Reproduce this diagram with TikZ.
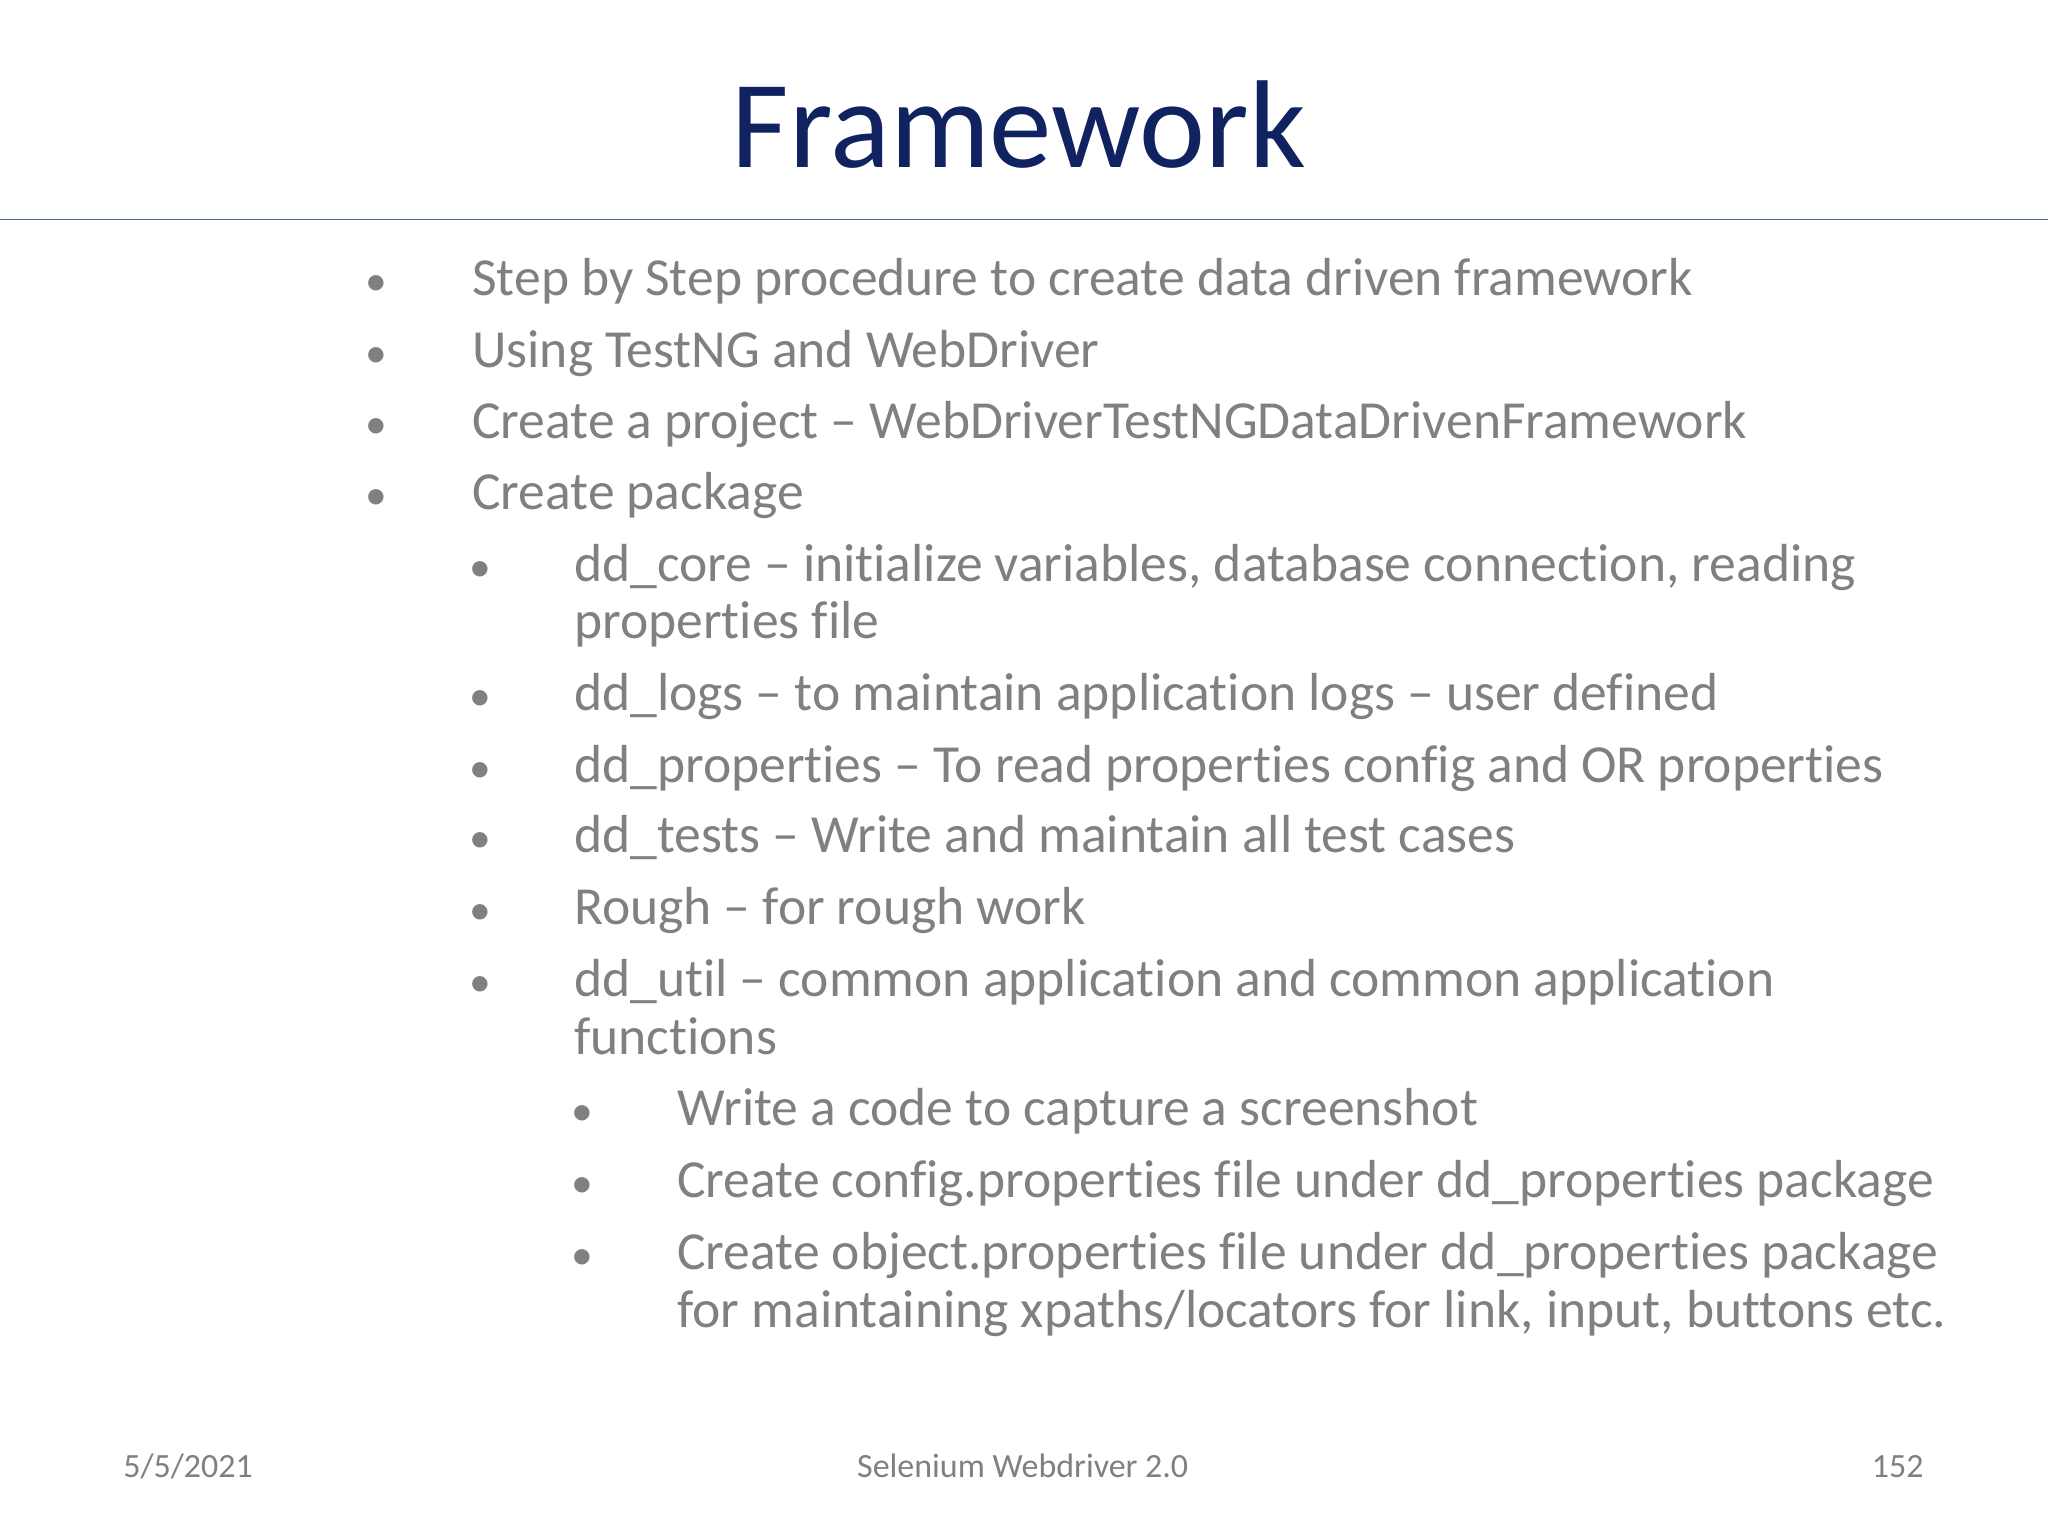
\documentclass[tikz,border=0pt]{standalone}
\usepackage{fontspec}
\setmainfont{Carlito}[Ligatures=NoCommon]
\definecolor{titleblue}{RGB}{16,34,96}
\definecolor{txt}{RGB}{128,128,128}
\definecolor{rule}{RGB}{80,110,160}
\begin{document}
\begin{tikzpicture}[x=0.3pt,y=-0.3pt,
  tx/.style={anchor=base west,inner sep=0pt,text=txt,font=\fontsize{12.3}{13}\selectfont},
  bl/.style={anchor=base,inner sep=0pt,text=txt,font=\fontsize{10}{12}\selectfont},
  ft/.style={anchor=base,inner sep=0pt,text=txt,font=\fontsize{7.8}{8}\selectfont}]
\useasboundingbox (0,0) rectangle (1568,1176);
\node[anchor=base,inner sep=0pt,text=titleblue,font=\fontsize{28.7}{32}\selectfont] (title) at (780,128) {Framework};
\draw[rule,line width=0.4pt] (0,168) -- (1568,168);
% level 1
\foreach \y/\t [count=\i] in {226/Step by Step procedure to create data driven framework,281/Using TestNG and WebDriver,336/Create a project -- WebDriverTestNGDataDrivenFramework,390/Create package}{
  \node[bl] (b1\i) at (288,\y) {•};
  \node[tx] (t1\i) at (361,\y) {\t};}
% level 2
\foreach \y/\t [count=\i] in {445/{dd\_core -- initialize variables, database connection, reading},544/dd\_logs -- to maintain application logs -- user defined,599/dd\_properties -- To read properties config and OR properties,653/dd\_tests -- Write and maintain all test cases,708/Rough -- for rough work,763/dd\_util -- common application and common application}{
  \node[bl] (b2\i) at (368,\y) {•};
  \node[tx] (t2\i) at (439,\y) {\t};}
\node[tx] (c1) at (439,489) {properties file};
\node[tx] (c2) at (439,807) {functions};
% level 3
\foreach \y/\t [count=\i] in {862/Write a code to capture a screenshot,917/Create config.properties file under dd\_properties package,972/Create object.properties file under dd\_properties package}{
  \node[bl] (b3\i) at (446,\y) {•};
  \node[tx] (t3\i) at (518,\y) {\t};}
\node[tx] (c3) at (518,1016) {for maintaining xpaths/locators for link, input, buttons etc.};
% footer
\node[ft] (date) at (144,1131) {5/5/2021};
\node[ft] (foot) at (783,1131) {Selenium Webdriver 2.0};
\node[ft] (num) at (1453,1131) {152};
\end{tikzpicture}
\end{document}
